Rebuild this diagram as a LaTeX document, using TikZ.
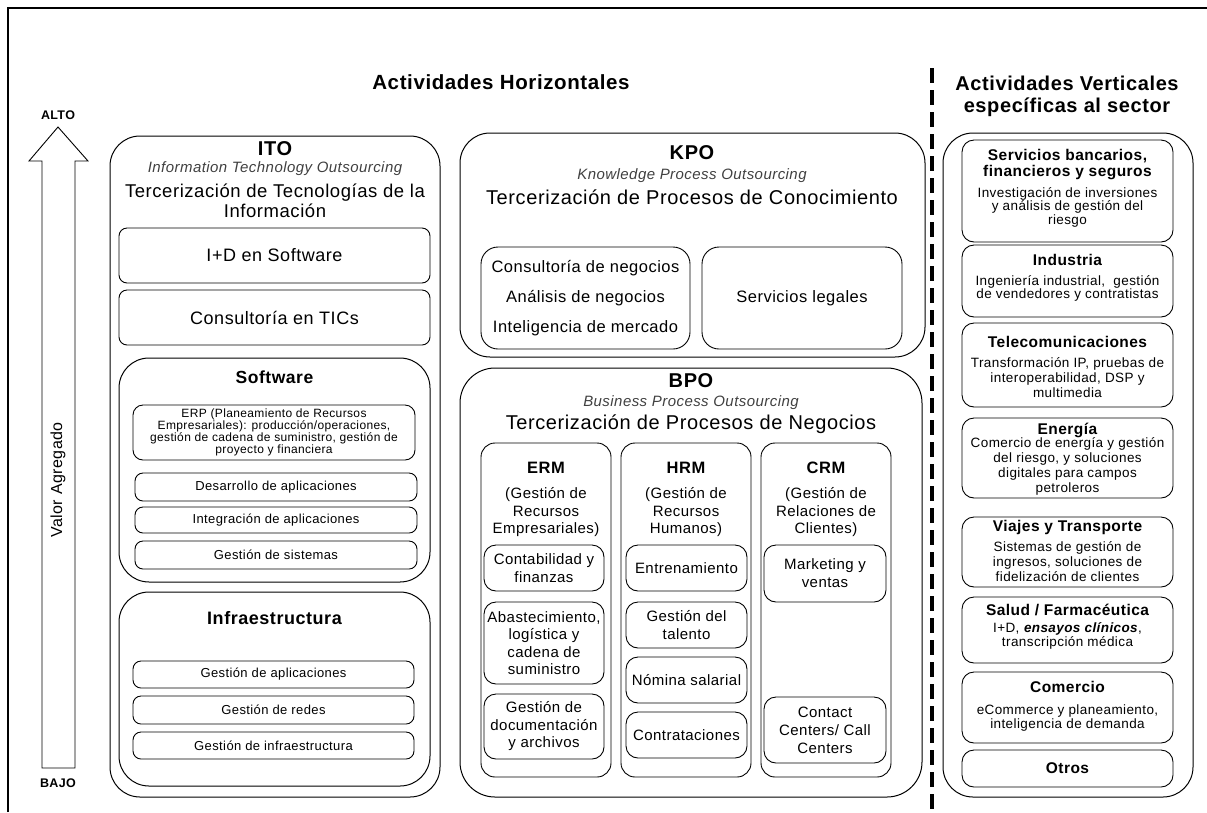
\documentclass[tikz,border=0pt]{standalone}
\usepackage{fontspec}
\setmainfont{Liberation Sans}[LetterSpace=3]

\newcommand{\fsz}[2]{\fontsize{#1}{#2}\selectfont}

\begin{document}
\begin{tikzpicture}[x=1pt, y=-1pt,
  bigbox/.style={draw, line width=1pt, rounded corners=30pt, inner sep=0pt},
  midbox/.style={draw, line width=0.9pt, rounded corners=12pt, inner sep=0pt, align=center},
  smallbox/.style={draw, line width=0.9pt, rounded corners=8pt, inner sep=0pt, align=center},
  lbl/.style={inner sep=0pt, align=center},
  sub/.style={lbl, font=\fsz{15}{18}\itshape, text=black!75}]
  \useasboundingbox (0,0) rectangle (1207,812);

  % frame
  \draw[line width=1.3pt] (8,812) -- (8,8) -- (1207,8);

  % value axis
  \coordinate (alto) at (58,127);
  \coordinate (bajo) at (58,768);
  \draw[line width=0.9pt] (bajo -| 42,0) -- (42,161) -- (29,161) -- (alto) -- (88,161) -- (75,161) -- (bajo -| 75,0) -- cycle;
  \node[lbl, font=\fsz{12.5}{14}\bfseries] (altoLbl) at (58,115) {ALTO};
  \node[lbl, font=\fsz{12.5}{14}\bfseries] (bajoLbl) at (58,783) {BAJO};
  \node[lbl, rotate=90, font=\fsz{16}{19}] (valor) at (58,480) {Valor Agregado};

  % headings
  \node[lbl, font=\fsz{20.5}{24}\bfseries] (horiz) at (501,82) {Actividades Horizontales};
  \node[lbl, font=\fsz{20}{22}\bfseries] (vert) at (1067,96) {Actividades Verticales\\específicas al sector};
  \coordinate (sepTop) at (932,68);
  \coordinate (sepBot) at (932,812);
  \draw[line width=4.5pt, dash pattern=on 15pt off 7pt] (sepTop) -- (sepBot);

  % ITO
  \node[bigbox, minimum width=330pt, minimum height=661pt] (ito) at (275,466.5) {};
  \node[lbl, font=\fsz{20}{24}\bfseries] (itoName) at (275,149) {ITO};
  \node[sub] (itoSub) at (275,169) {Information Technology Outsourcing};
  \node[lbl, font=\fsz{18.5}{20}] (itoEsp) at (275,201) {Tercerización de Tecnologías de la\\Información};
  \node[smallbox, minimum width=311pt, minimum height=55pt, font=\fsz{18}{20}] (idSoft) at (274.5,255.5) {I+D en Software};
  \node[smallbox, minimum width=311pt, minimum height=55pt, font=\fsz{18}{20}] (consTic) at (274.5,317.5) {Consultoría en TICs};
  \node[bigbox, minimum width=311pt, minimum height=224pt] (soft) at (274.5,470) {};
  \node[lbl, font=\fsz{17.5}{20}\bfseries] (softName) at (274.5,377) {Software};
  \node[smallbox, rounded corners=10pt, minimum width=282pt, minimum height=55pt, font=\fsz{12}{12}] (erp) at (274,432.5) {ERP (Planeamiento de Recursos\\Empresariales): producción/operaciones,\\gestión de cadena de suministro, gestión de\\proyecto y financiera};
  \node[smallbox, minimum width=282pt, minimum height=28pt, font=\fsz{13}{15}] (desApp) at (276,487) {Desarrollo de aplicaciones};
  \node[smallbox, minimum width=282pt, minimum height=26pt, font=\fsz{13}{15}] (intApp) at (276,520) {Integración de aplicaciones};
  \node[smallbox, minimum width=282pt, minimum height=28pt, font=\fsz{13}{15}] (gesSis) at (276,555) {Gestión de sistemas};
  \node[bigbox, minimum width=311pt, minimum height=194pt] (infra) at (274.5,689) {};
  \node[lbl, font=\fsz{18}{20}\bfseries] (infraName) at (274.5,618) {Infraestructura};
  \node[smallbox, minimum width=281pt, minimum height=27pt, font=\fsz{13}{15}] (gesApp) at (273.5,674.5) {Gestión de aplicaciones};
  \node[smallbox, minimum width=281pt, minimum height=28pt, font=\fsz{13}{15}] (gesRed) at (273.5,710) {Gestión de redes};
  \node[smallbox, minimum width=281pt, minimum height=27pt, font=\fsz{13}{15}] (gesInfra) at (273.5,745.5) {Gestión de infraestructura};

  % KPO
  \node[bigbox, minimum width=465pt, minimum height=224pt] (kpo) at (692.5,245) {};
  \node[lbl, font=\fsz{20}{24}\bfseries] (kpoName) at (692,153) {KPO};
  \node[sub] (kpoSub) at (692,176) {Knowledge Process Outsourcing};
  \node[lbl, font=\fsz{20}{22}] (kpoEsp) at (692,197) {Tercerización de Procesos de Conocimiento};
  \node[midbox, rounded corners=17pt, minimum width=209pt, minimum height=102pt, font=\fsz{16.5}{30}] (kpoNeg) at (585.5,298) {Consultoría de negocios\\Análisis de negocios\\Inteligencia de mercado};
  \node[midbox, rounded corners=17pt, minimum width=200pt, minimum height=102pt, font=\fsz{16.5}{20}] (kpoLeg) at (802,298) {Servicios legales};

  % BPO
  \node[bigbox, rounded corners=35pt, minimum width=462pt, minimum height=429pt] (bpo) at (691,582.5) {};
  \node[lbl, font=\fsz{20}{24}\bfseries] (bpoName) at (691,381) {BPO};
  \node[sub] (bpoSub) at (691,403) {Business Process Outsourcing};
  \node[lbl, font=\fsz{20}{22}] (bpoEsp) at (691,424) {Tercerización de Procesos de Negocios};
  \node[midbox, rounded corners=14pt, minimum width=130pt, minimum height=334pt] (erm) at (546,610) {};
  \node[midbox, rounded corners=14pt, minimum width=130pt, minimum height=334pt] (hrm) at (686,610) {};
  \node[midbox, rounded corners=14pt, minimum width=130pt, minimum height=334pt] (crm) at (826,610) {};
  \node[lbl, font=\fsz{16.5}{20}\bfseries] (ermName) at (546,468) {ERM};
  \node[lbl, font=\fsz{16.5}{20}\bfseries] (hrmName) at (686,468) {HRM};
  \node[lbl, font=\fsz{16.5}{20}\bfseries] (crmName) at (826,468) {CRM};
  \node[lbl, font=\fsz{15}{17.5}] (ermDesc) at (546,512.5) {(Gestión de\\Recursos\\Empresariales)};
  \node[lbl, font=\fsz{15}{17.5}] (hrmDesc) at (686,512.5) {(Gestión de\\Recursos\\Humanos)};
  \node[lbl, font=\fsz{15}{17.5}] (crmDesc) at (826,512.5) {(Gestión de\\Relaciones de\\Clientes)};
  \node[midbox, minimum width=120pt, minimum height=46pt, font=\fsz{15}{18}] (contab) at (544,568) {Contabilidad y\\finanzas};
  \node[midbox, minimum width=120pt, minimum height=82pt, font=\fsz{15}{17.5}] (abast) at (544,643) {Abastecimiento,\\logística y\\cadena de\\suministro};
  \node[midbox, minimum width=120pt, minimum height=65pt, font=\fsz{15}{17.5}] (gesDoc) at (544,726.5) {Gestión de\\documentación\\y archivos};
  \node[midbox, minimum width=121pt, minimum height=46pt, font=\fsz{15}{18}] (entren) at (686.5,568) {Entrenamiento};
  \node[midbox, minimum width=121pt, minimum height=46pt, font=\fsz{15}{18}] (talento) at (686.5,625) {Gestión del\\talento};
  \node[midbox, minimum width=121pt, minimum height=46pt, font=\fsz{15}{18}] (nomina) at (686.5,680) {Nómina salarial};
  \node[midbox, minimum width=121pt, minimum height=46pt, font=\fsz{15}{18}] (contrat) at (686.5,735) {Contrataciones};
  \node[midbox, minimum width=122pt, minimum height=57pt, font=\fsz{15}{18}] (mkt) at (825,573.5) {Marketing y\\ventas};
  \node[midbox, minimum width=122pt, minimum height=66pt, font=\fsz{15}{18}] (contact) at (825,730) {Contact\\Centers/ Call\\Centers};

  % sectors
  \node[bigbox, minimum width=250pt, minimum height=664pt] (sector) at (1068,465) {};
  \node[midbox, minimum width=211pt, minimum height=102pt] (banca) at (1067.5,191) {};
  \node[lbl, font=\fsz{15.5}{16}\bfseries] (bancaName) at (1067.5,165) {Servicios bancarios,\\financieros y seguros};
  \node[lbl, font=\fsz{13.5}{13.5}] (bancaDesc) at (1067.5,207) {Investigación de inversiones\\y análisis de gestión del\\riesgo};
  \node[midbox, minimum width=211pt, minimum height=72pt] (indus) at (1067.5,281) {};
  \node[lbl, font=\fsz{15.5}{16}\bfseries] (indusName) at (1067.5,260) {Industria};
  \node[lbl, font=\fsz{13.5}{13.5}] (indusDesc) at (1067.5,288.5) {Ingeniería industrial,\ \ gestión\\de vendedores y contratistas};
  \node[midbox, minimum width=211pt, minimum height=84pt] (telco) at (1067.5,365) {};
  \node[lbl, font=\fsz{15.5}{16}\bfseries] (telcoName) at (1067.5,342) {Telecomunicaciones};
  \node[lbl, font=\fsz{13.5}{15}] (telcoDesc) at (1067.5,378) {Transformación IP, pruebas de\\interoperabilidad, DSP y\\multimedia};
  \node[midbox, minimum width=211pt, minimum height=80pt] (energia) at (1067.5,458) {};
  \node[lbl, font=\fsz{15.5}{16}\bfseries] (energiaName) at (1067.5,430) {Energía};
  \node[lbl, font=\fsz{13.5}{15}] (energiaDesc) at (1067.5,466) {Comercio de energía y gestión\\del riesgo, y soluciones\\digitales para campos\\petroleros};
  \node[midbox, minimum width=211pt, minimum height=70pt] (viajes) at (1067.5,552) {};
  \node[lbl, font=\fsz{15.5}{16}\bfseries] (viajesName) at (1067.5,527) {Viajes y Transporte};
  \node[lbl, font=\fsz{13.5}{15}] (viajesDesc) at (1067.5,562) {Sistemas de gestión de\\ingresos, soluciones de\\fidelización de clientes};
  \node[midbox, minimum width=211pt, minimum height=66pt] (salud) at (1067.5,630) {};
  \node[lbl, font=\fsz{15.5}{16}\bfseries] (saludName) at (1067.5,610) {Salud / Farmacéutica};
  \node[lbl, font=\fsz{13.5}{14}] (saludDesc) at (1067.5,636) {I+D, \textbf{\textit{ensayos clínicos}},\\transcripción médica};
  \node[midbox, minimum width=211pt, minimum height=71pt] (comercio) at (1067.5,707.5) {};
  \node[lbl, font=\fsz{15.5}{16}\bfseries] (comercioName) at (1067.5,687) {Comercio};
  \node[lbl, font=\fsz{13.5}{14}] (comercioDesc) at (1067.5,718) {eCommerce y planeamiento,\\inteligencia de demanda};
  \node[midbox, minimum width=211pt, minimum height=37pt, font=\fsz{15.5}{16}\bfseries] (otros) at (1067.5,768.5) {Otros};
\end{tikzpicture}
\end{document}
